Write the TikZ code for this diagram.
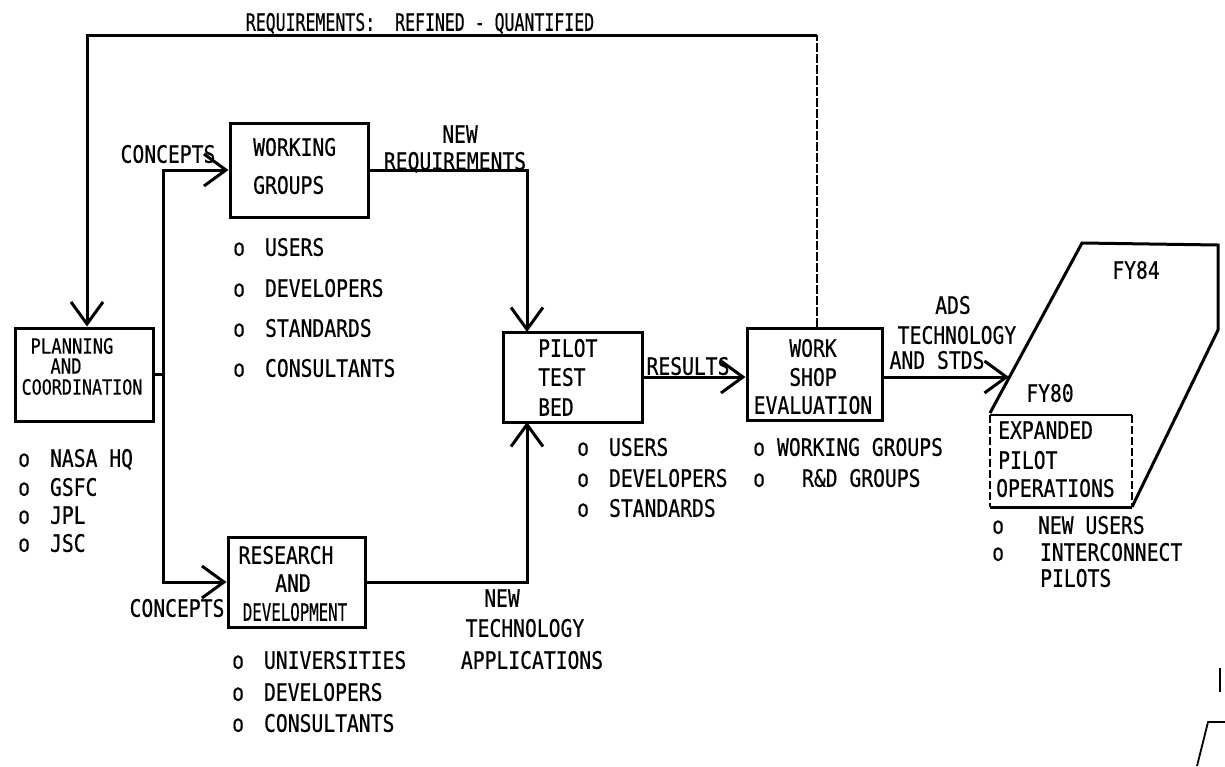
\documentclass[tikz,border=0pt]{standalone}
\usepackage{fontspec}
\setmainfont{DejaVu Sans Mono}[FakeStretch=0.82,FakeBold=0.5]
\usetikzlibrary{arrows.meta}
\newcommand\fsz{\fontsize{24}{28}\selectfont}
\newcommand\fsm{\fontsize{21}{24}\selectfont}
\newcommand\bul[2][20pt]{o\hspace{#1}#2}
\tikzset{
  ln/.style={line width=3pt, line join=miter},
  arr/.style={ln, -{Straight Barb[length=22pt,width=32pt,line width=3pt]}},
  thinln/.style={line width=1.8pt},
  box/.style={draw, line width=3pt, inner sep=0pt},
  lab/.style={inner sep=0pt, font=\fsz, text height=17.5pt, text depth=0pt},
  slab/.style={inner sep=0pt, font=\fsm, text height=15.3pt, text depth=0pt},
}
\begin{document}
\begin{tikzpicture}[x=1pt,y=-1pt]
\useasboundingbox (0,0) rectangle (1225,766);

% boxes
\node[box, minimum width=138pt, minimum height=93pt] (plan) at (84,374.5) {};
\node[box, minimum width=138pt, minimum height=94pt] (wg) at (299,170) {};
\node[box, minimum width=137pt, minimum height=90pt] (rd) at (296.5,582) {};
\node[box, minimum width=139pt, minimum height=90pt] (pilot) at (572.5,377) {};
\node[box, minimum width=135pt, minimum height=92pt] (ws) at (814.5,374) {};
\node[inner sep=0pt, minimum width=142pt, minimum height=92pt] (exp) at (1061,461) {};

% box texts
\node[slab] (t1) at (72,346) {PLANNING};
\node[slab] (t2) at (66,366) {AND};
\node[slab] (t3) at (82,387) {\scalebox{0.97}[1]{COORDINATION}};
\node[lab, anchor=west] (t4) at (253,147) {WORKING};
\node[lab, anchor=west] (t5) at (253,185) {GROUPS};
\node[lab] (t6) at (286,555) {RESEARCH};
\node[lab] (t7) at (293,583) {AND};
\node[lab] (t8) at (295,612) {\scalebox{0.8}[1]{DEVELOPMENT}};
\node[lab, anchor=west] (t9) at (538,348) {PILOT};
\node[lab, anchor=west] (t10) at (538,377) {TEST};
\node[lab, anchor=west] (t11) at (538,407) {BED};
\node[lab] (t12) at (813,348) {WORK};
\node[lab] (t13) at (813,377) {SHOP};
\node[lab] (t14) at (813,405) {EVALUATION};
\node[lab, anchor=west] (t15) at (998,430) {EXPANDED};
\node[lab, anchor=west] (t16) at (998,460) {PILOT};
\node[lab, anchor=west] (t17) at (996,488) {OPERATIONS};
\node[lab] (t18) at (1050,393) {FY80};
\node[lab] (t19) at (1136,270) {FY84};

% connector labels
\node[lab] (c1) at (168,154) {CONCEPTS};
\node[lab] (c2) at (177,608) {CONCEPTS};
\node[lab] (c3) at (460,134) {NEW};
\node[lab] (c4) at (455,161) {REQUIREMENTS};
\node[lab] (c5) at (502,598) {NEW};
\node[lab] (c6) at (525,628) {TECHNOLOGY};
\node[lab] (c7) at (532,660) {APPLICATIONS};
\node[lab] (c8) at (688,366) {RESULTS};
\node[lab] (c9) at (953,305) {ADS};
\node[lab] (c10) at (957,335) {TECHNOLOGY};
\node[lab] (c11) at (937,360) {AND STDS};
\node[lab] (c12) at (420,22) {\scalebox{0.84}[1]{REQUIREMENTS:\ \ REFINED - QUANTIFIED}};

% bullet lists
\node[lab, anchor=west] (p1) at (18,458) {\bul{NASA HQ}};
\node[lab, anchor=west] (p2) at (18,487) {\bul{GSFC}};
\node[lab, anchor=west] (p3) at (18,515) {\bul{JPL}};
\node[lab, anchor=west] (p4) at (18,543) {\bul{JSC}};
\node[lab, anchor=west] (w1) at (233,247) {\bul{USERS}};
\node[lab, anchor=west] (w2) at (233,288) {\bul{DEVELOPERS}};
\node[lab, anchor=west] (w3) at (233,328) {\bul{STANDARDS}};
\node[lab, anchor=west] (w4) at (233,368) {\bul{CONSULTANTS}};
\node[lab, anchor=west] (r1) at (232,660) {\bul{UNIVERSITIES}};
\node[lab, anchor=west] (r2) at (232,692) {\bul{DEVELOPERS}};
\node[lab, anchor=west] (r3) at (232,723) {\bul{CONSULTANTS}};
\node[lab, anchor=west] (b1) at (577,447) {\bul{USERS}};
\node[lab, anchor=west] (b2) at (577,478) {\bul{DEVELOPERS}};
\node[lab, anchor=west] (b3) at (577,508) {\bul{STANDARDS}};
\node[lab, anchor=west] (s1) at (753,447) {\bul[12pt]{WORKING GROUPS}};
\node[lab, anchor=west] (s2) at (753,478) {\bul[37pt]{R\&D GROUPS}};
\node[lab, anchor=west] (e1) at (992,525) {\bul[34pt]{NEW USERS}};
\node[lab, anchor=west] (e2) at (992,552) {\bul[36pt]{INTERCONNECT}};
\node[lab, anchor=west] (e3) at (1040,578) {PILOTS};

% coordinates
\coordinate (jn) at (163,374.5);
\coordinate (pin1) at (527,332);
\coordinate (pin2) at (527,422);
\coordinate (boxin) at (1009,377);
\coordinate (fb1) at (817,35);
\coordinate (fb2) at (87,35);

% connectors
\draw[ln] (plan.east) -- (jn);
\draw[arr] (jn) |- (wg.west);
\draw[arr] (jn) |- (rd.west);
\draw[arr] (wg.east) -| (pin1);
\draw[arr] (rd.east) -| (pin2);
\draw[arr] (pilot.east) -- (pilot.east -| ws.west);
\draw[arr] (ws.east |- boxin) -- (boxin);
\draw[thinln, dash pattern=on 9pt off 2pt] (ws.north -| fb1) -- (fb1);
\draw[arr] (fb1) -- (fb2) -- (fb2 |- plan.north);

% expanded pilot block
\draw[ln] (990,413) -- (1082,243) -- (1218,245) -- (1218,330) -- (1132,507);
\draw[thinln] (exp.north west) -- (exp.north east);
\draw[ln] (exp.south west) -- (exp.south east);
\draw[thinln, dash pattern=on 8pt off 3pt] (exp.north west) -- (exp.south west);
\draw[thinln, dash pattern=on 8pt off 3pt] (exp.north east) -- (exp.south east);

% edge fragments at bottom right
\draw[thinln] (1220,668) -- (1220,692);
\draw[thinln] (1197,766) -- (1208,722) -- (1225,722);
\end{tikzpicture}
\end{document}
